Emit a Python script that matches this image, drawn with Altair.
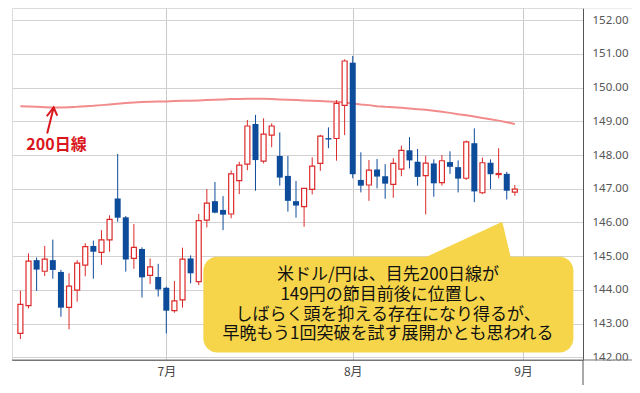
import altair as alt
import pandas as pd

# ---- data (USD/JPY daily candles, Jun 5 - Aug 29) ----
dates = ["06-05", "06-06", "06-09", "06-10", "06-11", "06-12", "06-13", "06-16", "06-17", "06-18",
         "06-19", "06-20", "06-23", "06-24", "06-25", "06-26", "06-27", "06-30",
         "07-01", "07-02", "07-03", "07-04", "07-07", "07-08", "07-09", "07-10", "07-11", "07-14",
         "07-15", "07-16", "07-17", "07-18", "07-21", "07-22", "07-23", "07-24", "07-25", "07-28",
         "07-29", "07-30", "07-31",
         "08-01", "08-04", "08-05", "08-06", "08-07", "08-08", "08-11", "08-12", "08-13", "08-14",
         "08-15", "08-18", "08-19", "08-20", "08-21", "08-22", "08-25", "08-26", "08-27", "08-28", "08-29"]
opens = [142.71, 143.53, 144.88, 144.55, 144.88, 144.53, 143.48, 143.99, 144.73, 145.30,
         145.11, 145.48, 146.71, 146.15, 144.93, 145.21, 144.43, 144.38,
         144.06, 143.38, 143.70, 144.93, 144.24, 146.07, 146.63, 146.37, 146.25, 147.24,
         147.73, 148.92, 147.82, 148.59, 147.97, 147.38, 146.63, 146.47, 146.98, 147.75,
         148.50, 148.49, 149.47,
         150.74, 147.26, 147.11, 147.57, 147.37, 147.13, 147.58, 148.14, 147.80, 147.39,
         147.75, 147.18, 147.79, 147.64, 147.31, 148.35, 146.88, 147.77, 147.42, 147.44, 146.90]
highs = [143.97, 145.08, 144.96, 145.30, 145.49, 144.59, 144.49, 144.88, 145.38, 145.46,
         145.77, 146.21, 148.03, 146.19, 145.95, 145.26, 144.93, 144.77,
         144.09, 144.26, 145.25, 145.02, 146.25, 146.99, 147.20, 146.78, 147.54, 147.80,
         149.04, 149.19, 149.09, 148.94, 148.67, 147.97, 147.23, 147.01, 147.93, 148.60,
         148.82, 149.63, 150.84,
         150.94, 148.08, 147.85, 147.88, 147.73, 147.90, 148.28, 148.53, 148.18, 147.98,
         147.87, 148.00, 148.11, 147.84, 148.43, 148.79, 147.92, 147.87, 148.20, 147.50, 147.11]
lows = [142.54, 143.45, 143.97, 144.41, 144.33, 143.20, 142.83, 143.65, 144.40, 144.33,
        144.74, 145.13, 146.02, 144.54, 144.62, 143.77, 144.17, 143.80,
        142.71, 143.32, 143.47, 144.19, 144.14, 145.85, 146.27, 145.77, 146.12, 146.84,
        147.55, 146.94, 147.75, 148.23, 147.09, 146.32, 146.14, 145.87, 146.83, 147.53,
        148.20, 147.83, 148.59,
        147.31, 146.89, 146.64, 147.01, 146.70, 146.73, 147.37, 147.60, 147.09, 146.24,
        146.76, 147.09, 147.44, 146.89, 147.26, 146.60, 146.84, 146.99, 147.31, 146.68, 146.79]
closes = [143.57, 144.85, 144.60, 144.91, 144.59, 143.47, 144.11, 144.79, 145.28, 145.13,
          145.48, 146.09, 146.14, 144.90, 145.26, 144.37, 144.68, 144.01,
          143.38, 143.67, 144.91, 144.49, 146.05, 146.57, 146.29, 146.23, 147.44, 147.70,
          148.86, 147.85, 148.62, 148.86, 147.33, 146.64, 146.50, 147.01, 147.67, 148.56,
          148.46, 149.53, 150.79,
          147.43, 147.09, 147.55, 147.36, 147.15, 147.75, 148.14, 147.84, 147.35, 147.76,
          147.16, 147.83, 147.65, 147.30, 148.39, 146.92, 147.77, 147.43, 147.45, 146.94, 146.99]
ma200 = [149.45, 149.44, 149.43, 149.42, 149.41, 149.41, 149.42, 149.43, 149.45, 149.46,
         149.48, 149.50, 149.52, 149.54, 149.56, 149.57, 149.58, 149.59,
         149.59, 149.60, 149.61, 149.61, 149.62, 149.63, 149.64, 149.65, 149.66, 149.66,
         149.67, 149.67, 149.67, 149.66, 149.65, 149.64, 149.63, 149.62, 149.61, 149.60,
         149.59, 149.58, 149.56,
         149.53, 149.50, 149.48, 149.45, 149.43, 149.42, 149.40, 149.38, 149.36, 149.34,
         149.31, 149.28, 149.25, 149.21, 149.18, 149.14, 149.10, 149.06, 149.02, 148.97, 148.92]

month_ticks = [18, 41, 62]
month_labels = ["7月", "8月", "9月"]
price_ticks = [142, 143, 144, 145, 146, 147, 148, 149, 150, 151, 152]

# annotation data
ma_label = ["200日線"]
ma_label_pos = [4.45, 148.30]
arrow_shaft_x = [3.30, 4.10]
arrow_shaft_y = [148.64, 149.41]
arrow_head_x = [3.25, 4.10, 4.55]
arrow_head_y = [149.15, 149.41, 149.17]

bubble_box = [22.57, 68.22, 144.98, 142.14]   # x, x2, y, y2
pointer_x = [49.39, 59.45, 60.55]
pointer_y = [144.90, 146.02, 144.90]
pointer_base = 144.90
bubble_lines = ["米ドル/円は、目先200日線が",
                "149円の節目前後に位置し、",
                "しばらく頭を抑える存在になり得るが、",
                "早晩もう1回突破を試す展開かとも思われる"]
bubble_line_y = [144.44, 143.85, 143.25, 142.69]
bubble_text_x = 45.36

RED = "#dc2a2a"
BLUE = "#0d4b9b"
PINK = "#f28b8b"
YELLOW = "#f6d54a"
JP = "Noto Sans CJK JP"

df = pd.DataFrame({"i": list(range(len(dates))), "date": dates, "open": opens,
                   "high": highs, "low": lows, "close": closes, "ma": ma200})
df["up"] = df["close"] >= df["open"]
df["blo"] = df[["open", "close"]].min(axis=1)
df["bhi"] = df[["open", "close"]].max(axis=1)

xscale = alt.Scale(domain=[-0.42, 68.79], nice=False, zero=False)
yscale = alt.Scale(domain=[141.917, 152.362], nice=False, zero=False)

label_expr = " : ".join(
    [f"datum.value == {v} ? '{l}'" for v, l in zip(month_ticks[:-1], month_labels[:-1])]
) + f" : '{month_labels[-1]}'"

x_axis = alt.Axis(values=month_ticks, labelExpr=label_expr, grid=True,
                  gridColor="#c9c9c9", ticks=False, domainColor="#777",
                  labelColor="#444", labelFont=JP, labelFontSize=12, labelPadding=6,
                  title=None)
y_axis = alt.Axis(orient="right", values=price_ticks, format=".2f", grid=True,
                  gridColor="#d2d2d2", ticks=False, domainColor="#555",
                  labelColor="#555", labelFont="Noto Sans", labelFontSize=11.5,
                  labelPadding=9, title=None)


def X(field):
    return alt.X(field, type="quantitative", scale=xscale, axis=x_axis, title=None)


def Y(field):
    return alt.Y(field, type="quantitative", scale=yscale, axis=y_axis, title=None)


base = alt.Chart(df)

ma_line = base.mark_line(color=PINK, strokeWidth=2).encode(x=X("i"), y=Y("ma"))

wicks = base.mark_rule(strokeWidth=1).encode(
    x=X("i"), y=Y("low"), y2="high",
    color=alt.condition("datum.up", alt.value(RED), alt.value(BLUE)))

up_bodies = base.transform_filter("datum.up").mark_bar(
    size=5, fill="white", stroke=RED, strokeWidth=1.2).encode(x=X("i"), y=Y("blo"), y2="bhi")

down_bodies = base.transform_filter("!datum.up").mark_bar(
    size=6, color=BLUE).encode(x=X("i"), y=Y("blo"), y2="bhi")

lab_df = pd.DataFrame({"t": ma_label, "x": [ma_label_pos[0]], "y": [ma_label_pos[1]]})
ma_text = alt.Chart(lab_df).mark_text(font=JP, fontSize=16, fontWeight="bold", color="#d9161c",
                                      baseline="middle").encode(x=X("x"), y=Y("y"), text="t")

shaft = alt.Chart(pd.DataFrame({"x": arrow_shaft_x, "y": arrow_shaft_y})).mark_line(
    color="#d9161c", strokeWidth=2).encode(x=X("x"), y=Y("y"))
head = alt.Chart(pd.DataFrame({"x": arrow_head_x, "y": arrow_head_y, "o": [0, 1, 2]})).mark_line(
    color="#d9161c", strokeWidth=2).encode(x=X("x"), y=Y("y"), order="o")

box = alt.Chart(pd.DataFrame({"x": [bubble_box[0]], "x2": [bubble_box[1]],
                              "y": [bubble_box[2]], "y2": [bubble_box[3]]})).mark_rect(
    color=YELLOW, cornerRadius=14).encode(x=X("x"), x2="x2", y=Y("y"), y2="y2")

pointer = alt.Chart(pd.DataFrame({"x": pointer_x, "y": pointer_y,
                                  "b": [pointer_base] * 3})).mark_area(color=YELLOW).encode(
    x=X("x"), y=Y("y"), y2="b")

btext = alt.Chart(pd.DataFrame({"t": bubble_lines, "y": bubble_line_y,
                                "x": [bubble_text_x] * 4})).mark_text(
    font=JP, fontSize=17, color="#111", baseline="middle", align="center").encode(
    x=X("x"), y=Y("y"), text="t")

# frame decoration (panel separators as in the reference)
deco = alt.Chart(pd.DataFrame({"a": [0]}))
cover = deco.mark_rect(color="white").encode(
    x=alt.value(571.5), x2=alt.value(622), y=alt.value(352.5), y2=alt.value(378))
vline = deco.mark_rule(color="#555", strokeWidth=1).encode(
    x=alt.value(571), y=alt.value(352), y2=alt.value(379))
hline = deco.mark_rule(color="#777", strokeWidth=1).encode(
    x=alt.value(0), x2=alt.value(621), y=alt.value(352))
top_ext = deco.mark_rule(color="#dcdcdc", strokeWidth=1).encode(
    x=alt.value(571), x2=alt.value(621), y=alt.value(0))
right_edge = deco.mark_rule(color="#dcdcdc", strokeWidth=1).encode(
    x=alt.value(621), y=alt.value(0), y2=alt.value(379))

chart = alt.layer(
    ma_line, wicks, up_bodies, down_bodies, ma_text, shaft, head,
    box, pointer, btext, cover, vline, hline, top_ext, right_edge
).properties(
    width=571, height=352,
    autosize=alt.AutoSizeParams(type="none"),
    padding={"left": 4, "top": 0, "right": 49, "bottom": 25},
    background="white",
).configure_view(stroke="#dcdcdc")

chart.save("out.html", embed_options={"renderer": "svg", "actions": False})
